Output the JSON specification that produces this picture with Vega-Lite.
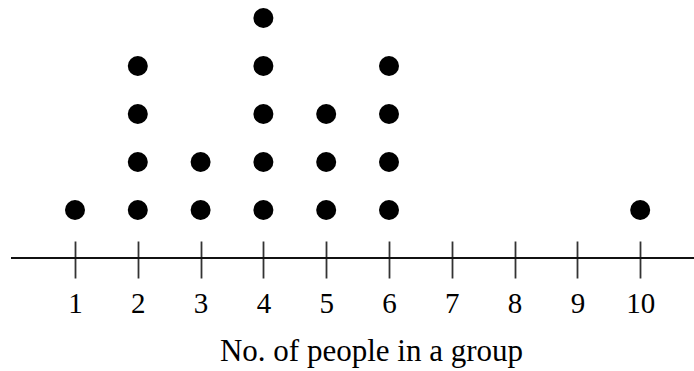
{
  "$schema": "https://vega.github.io/schema/vega-lite/v6.json",
  "width": 683,
  "height": 258,
  "autosize": "none",
  "padding": {"left": 11, "top": 0, "right": 0, "bottom": 113},
  "background": "white",
  "config": {"view": {"stroke": null}},
  "data": {
    "values": [
      {"people": 1, "dot": 1},
      {"people": 2, "dot": 1}, {"people": 2, "dot": 2}, {"people": 2, "dot": 3}, {"people": 2, "dot": 4},
      {"people": 3, "dot": 1}, {"people": 3, "dot": 2},
      {"people": 4, "dot": 1}, {"people": 4, "dot": 2}, {"people": 4, "dot": 3}, {"people": 4, "dot": 4}, {"people": 4, "dot": 5},
      {"people": 5, "dot": 1}, {"people": 5, "dot": 2}, {"people": 5, "dot": 3},
      {"people": 6, "dot": 1}, {"people": 6, "dot": 2}, {"people": 6, "dot": 3}, {"people": 6, "dot": 4},
      {"people": 10, "dot": 1}
    ]
  },
  "layer": [
    {
      "mark": {"type": "rule", "color": "#111", "strokeWidth": 1.8},
      "encoding": {
        "y": {"datum": 0, "type": "quantitative", "scale": {"domain": [0, 5.375], "nice": false, "zero": false}, "axis": null}
      }
    },
    {
      "mark": {"type": "point", "shape": "circle", "filled": true, "size": 400, "color": "black", "opacity": 1},
      "encoding": {
        "x": {
          "field": "people",
          "type": "quantitative",
          "scale": {"domain": [-0.0191, 10.857], "nice": false, "zero": false},
          "axis": {
            "values": [1, 2, 3, 4, 5, 6, 7, 8, 9, 10],
            "format": "d",
            "grid": false,
            "domain": false,
            "offset": -17,
            "ticks": true,
            "tickSize": 37,
            "tickWidth": 1.8,
            "tickColor": "#333",
            "labelFont": "Liberation Serif",
            "labelFontSize": 29,
            "labelColor": "black",
            "labelPadding": 11,
            "labelFlush": false,
            "labelOverlap": false,
            "title": "No. of people in a group",
            "titleFont": "Liberation Serif",
            "titleFontSize": 31,
            "titleFontWeight": "normal",
            "titleColor": "black",
            "titleAlign": "center",
            "titleBaseline": "alphabetic",
            "titleX": 360,
            "titleY": 119
          }
        },
        "y": {"field": "dot", "type": "quantitative", "axis": null}
      }
    }
  ]
}
